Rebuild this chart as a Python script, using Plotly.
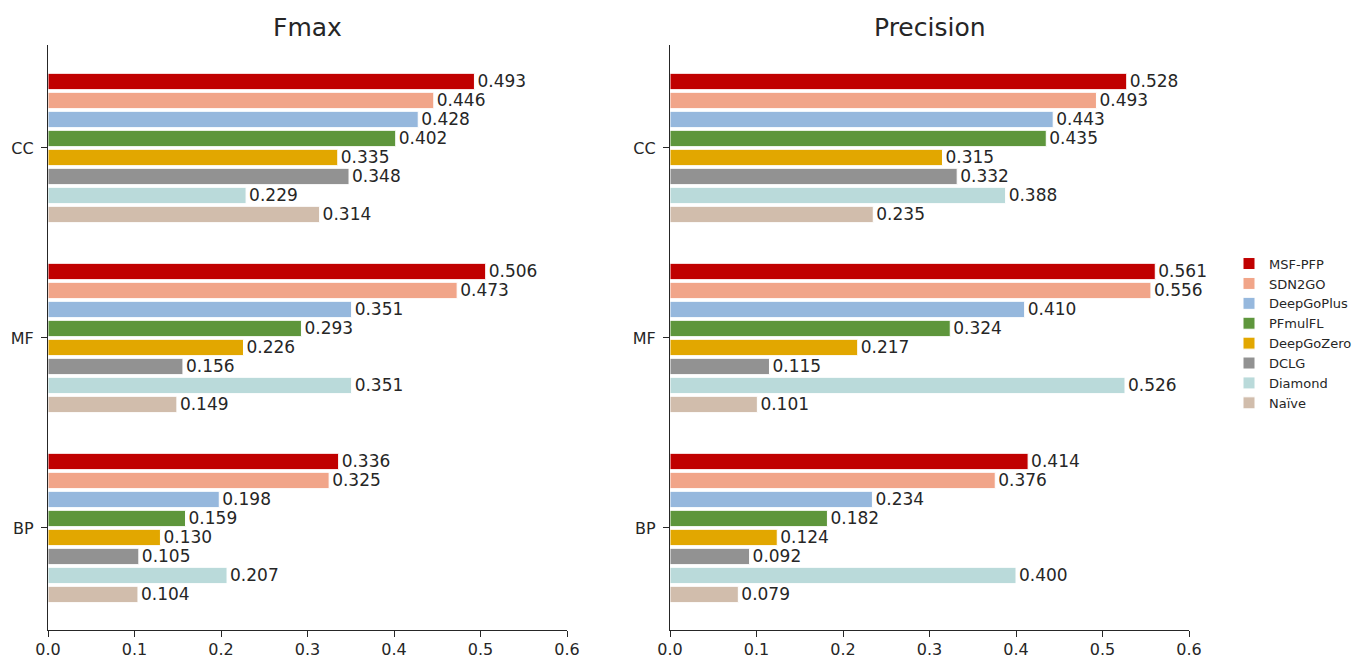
import plotly.graph_objects as go

categories = ["CC", "MF", "BP"]
methods = ["MSF-PFP", "SDN2GO", "DeepGoPlus", "PFmulFL", "DeepGoZero", "DCLG", "Diamond", "Naïve"]
colors = ["#C00000", "#F1A589", "#96B8DD", "#5E963C", "#E2A700", "#929292", "#BADADA", "#D1BDAC"]

fmax = {
    "MSF-PFP":    [0.493, 0.506, 0.336],
    "SDN2GO":     [0.446, 0.473, 0.325],
    "DeepGoPlus": [0.428, 0.351, 0.198],
    "PFmulFL":    [0.402, 0.293, 0.159],
    "DeepGoZero": [0.335, 0.226, 0.130],
    "DCLG":       [0.348, 0.156, 0.105],
    "Diamond":    [0.229, 0.351, 0.207],
    "Naïve":      [0.314, 0.149, 0.104],
}
precision = {
    "MSF-PFP":    [0.528, 0.561, 0.414],
    "SDN2GO":     [0.493, 0.556, 0.376],
    "DeepGoPlus": [0.443, 0.410, 0.234],
    "PFmulFL":    [0.435, 0.324, 0.182],
    "DeepGoZero": [0.315, 0.217, 0.124],
    "DCLG":       [0.332, 0.115, 0.092],
    "Diamond":    [0.388, 0.526, 0.400],
    "Naïve":      [0.235, 0.101, 0.079],
}
x_ticks = [0.0, 0.1, 0.2, 0.3, 0.4, 0.5, 0.6]

W, H = 1359, 660
fig = go.Figure()

for panel, data in [(1, fmax), (2, precision)]:
    for m, c in zip(methods, colors):
        fig.add_trace(go.Bar(
            x=data[m], y=categories, orientation="h", name=m,
            marker=dict(color=c, line=dict(color="white", width=1)),
            text=[f"{v:.3f}" for v in data[m]], textposition="outside",
            constraintext="none", cliponaxis=False,
            textfont=dict(family="DejaVu Sans", size=17, color="#262626"),
            xaxis="x" if panel == 1 else "x2",
            yaxis="y" if panel == 1 else "y2",
            showlegend=(panel == 1), legendgroup=m,
        ))

axis_common = dict(
    showline=True, linecolor="#262626", linewidth=1.2,
    ticks="outside", ticklen=6, tickcolor="#262626",
    tickfont=dict(family="DejaVu Sans", size=16, color="#262626"),
    showgrid=False, zeroline=False, automargin=False,
)

d1 = [48 / W, 567 / W]
d2 = [670 / W, 1189 / W]
y_range = [2.537, -0.542]

fig.update_layout(
    width=W, height=H,
    margin=dict(l=0, r=0, t=45, b=30),
    paper_bgcolor="white", plot_bgcolor="white",
    barmode="group", bargap=0.2, bargroupgap=0.14,
    xaxis=dict(domain=d1, range=[0, 0.6], tickvals=x_ticks,
               ticktext=[f"{v:.1f}" for v in x_ticks], anchor="y",
               ticklabelstandoff=-1, **axis_common),
    xaxis2=dict(domain=d2, range=[0, 0.6], tickvals=x_ticks,
                ticktext=[f"{v:.1f}" for v in x_ticks], anchor="y2",
                ticklabelstandoff=-1, **axis_common),
    yaxis=dict(range=y_range, categoryorder="array", categoryarray=categories,
               anchor="x", ticklabelstandoff=4, **axis_common),
    yaxis2=dict(range=y_range, categoryorder="array", categoryarray=categories,
                anchor="x2", ticklabelstandoff=4, **axis_common),
    legend=dict(x=1229 / W, y=0.652, xanchor="left", yanchor="top",
                font=dict(family="DejaVu Sans", size=13, color="#262626"),
                bgcolor="rgba(0,0,0,0)", itemwidth=30, tracegroupgap=0),
    annotations=[
        dict(text="Fmax", x=sum(d1) / 2, y=1, xref="paper", yref="paper",
             xanchor="center", yanchor="bottom", yshift=1, showarrow=False,
             font=dict(family="DejaVu Sans", size=25, color="#262626")),
        dict(text="Precision", x=sum(d2) / 2, y=1, xref="paper", yref="paper",
             xanchor="center", yanchor="bottom", yshift=1, showarrow=False,
             font=dict(family="DejaVu Sans", size=25, color="#262626")),
    ],
)

fig.write_html("out.html")
